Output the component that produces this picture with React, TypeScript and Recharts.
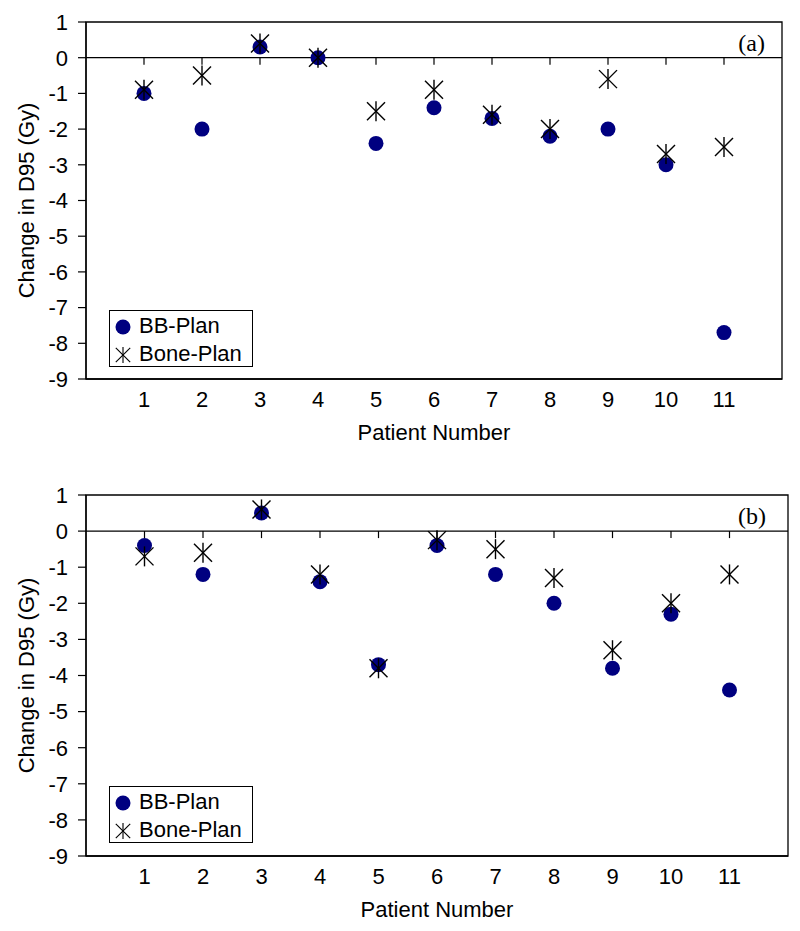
import {
  Label,
  ReferenceArea,
  ReferenceLine,
  Scatter,
  ScatterChart,
  XAxis,
  YAxis,
} from 'recharts'

const patients = [1, 2, 3, 4, 5, 6, 7, 8, 9, 10, 11]
const yTicks = [1, 0, -1, -2, -3, -4, -5, -6, -7, -8, -9]

// panel (a)
const bbPlanA = [-1.0, -2.0, 0.3, 0.0, -2.4, -1.4, -1.7, -2.2, -2.0, -3.0, -7.7]
const bonePlanA = [-0.9, -0.5, 0.4, 0.0, -1.5, -0.9, -1.6, -2.0, -0.6, -2.7, -2.5]

// panel (b)
const bbPlanB = [-0.4, -1.2, 0.5, -1.4, -3.7, -0.4, -1.2, -2.0, -3.8, -2.3, -4.4]
const bonePlanB = [-0.7, -0.6, 0.6, -1.2, -3.8, -0.25, -0.5, -1.3, -3.3, -2.0, -1.2]

const SANS = '"Liberation Sans", Arial, sans-serif'
const SERIF = '"Liberation Serif", "Times New Roman", serif'
const NAVY = '#000080'
const FONT = 22

const Dot = (props: any) => <circle cx={props.cx} cy={props.cy} r={7.5} fill={NAVY} />

const Star = (props: any) => {
  const { cx, cy } = props
  const s = 9
  return (
    <g stroke="#000" strokeWidth={1.4}>
      <line x1={cx - s} y1={cy - s} x2={cx + s} y2={cy + s} />
      <line x1={cx - s} y1={cy + s} x2={cx + s} y2={cy - s} />
      <line x1={cx} y1={cy - s - 1} x2={cx} y2={cy + s + 1} />
    </g>
  )
}

const ZeroTick = (props: any) => (
  <line x1={props.cx} y1={props.cy} x2={props.cx} y2={props.cy + 7} stroke="#000" strokeWidth={1.2} />
)

const LegendBox = ({ left, top }: { left: number; top: number }) => (
  <div
    style={{
      position: 'absolute',
      left,
      top,
      width: 144,
      height: 57,
      border: '1.3px solid #000',
      background: '#fff',
      boxSizing: 'border-box',
      fontFamily: SANS,
      fontSize: FONT,
      color: '#000',
    }}
  >
    <svg width={24} height={57} style={{ position: 'absolute', left: 2, top: 0 }}>
      <Dot cx={11} cy={16} />
      <g transform="translate(11 44) scale(0.8) translate(-11 -44)">
        <Star cx={11} cy={44} />
      </g>
    </svg>
    <div style={{ position: 'absolute', left: 29, top: 5, lineHeight: '20px', whiteSpace: 'nowrap' }}>BB-Plan</div>
    <div style={{ position: 'absolute', left: 29, top: 33, lineHeight: '20px', whiteSpace: 'nowrap' }}>Bone-Plan</div>
  </div>
)

type PanelProps = {
  bb: number[]
  bone: number[]
  tag: string
  top: number
  height: number
  margin: { top: number; right: number; bottom: number; left: number }
  legendTop: number
  tagDx: number
}

const Panel = ({ bb, bone, tag, top, height, margin, legendTop, tagDx }: PanelProps) => {
  const bbData = patients.map((p, i) => ({ x: p, y: bb[i] }))
  const boneData = patients.map((p, i) => ({ x: p, y: bone[i] }))
  const zeroTicks = patients.map((p) => ({ x: p, y: 0 }))
  const tickStyle = { fill: '#000', fontSize: FONT, fontFamily: SANS }

  return (
    <div style={{ position: 'absolute', left: 0, top, width: 800, height }}>
      <ScatterChart width={800} height={height} margin={margin}>
        <XAxis
          type="number"
          dataKey="x"
          domain={[0, 12]}
          ticks={patients}
          interval={0}
          height={70}
          axisLine={{ stroke: '#000', strokeWidth: 1.3 }}
          tickLine={false}
          tickSize={6}
          tickMargin={6}
          tick={tickStyle}
        >
          <Label value="Patient Number" position="insideBottom" offset={9} fill="#000" fontSize={FONT} fontFamily={SANS} />
        </XAxis>
        <YAxis
          type="number"
          dataKey="y"
          domain={[-9, 1]}
          ticks={yTicks}
          interval={0}
          width={86}
          axisLine={{ stroke: '#000', strokeWidth: 1.3 }}
          tickLine={{ stroke: '#000', strokeWidth: 1.2 }}
          tickSize={8}
          tickMargin={10}
          tick={tickStyle}
        >
          <Label value="Change in D95 (Gy)" angle={-90} position="center" dx={-17} fill="#000" fontSize={FONT} fontFamily={SANS} />
        </YAxis>
        <ReferenceArea x1={0} x2={12} y1={-9} y2={1} fill="none" stroke="#000" strokeWidth={1.3} fillOpacity={0}>
          <Label value={tag} position="insideTopRight" offset={12} dx={tagDx} fill="#000" fontSize={24} fontFamily={SERIF} />
        </ReferenceArea>
        <ReferenceLine y={0} stroke="#000" strokeWidth={1.2} />
        <Scatter data={zeroTicks} shape={ZeroTick} isAnimationActive={false} legendType="none" />
        <Scatter name="BB-Plan" data={bbData} shape={Dot} isAnimationActive={false} />
        <Scatter name="Bone-Plan" data={boneData} shape={Star} isAnimationActive={false} />
      </ScatterChart>
      <LegendBox left={109} top={legendTop} />
    </div>
  )
}

export default function App() {
  return (
    <div style={{ position: 'absolute', left: 0, top: 0, width: 800, height: 931, background: '#fff' }}>
      <Panel
        bb={bbPlanA}
        bone={bonePlanA}
        tag="(a)"
        top={0}
        height={465}
        margin={{ top: 22, right: 18, bottom: 16, left: 0 }}
        legendTop={310}
        tagDx={-5}
      />
      <Panel
        bb={bbPlanB}
        bone={bonePlanB}
        tag="(b)"
        top={465}
        height={466}
        margin={{ top: 30, right: 12, bottom: 5, left: 0 }}
        legendTop={321}
        tagDx={-10}
      />
    </div>
  )
}
